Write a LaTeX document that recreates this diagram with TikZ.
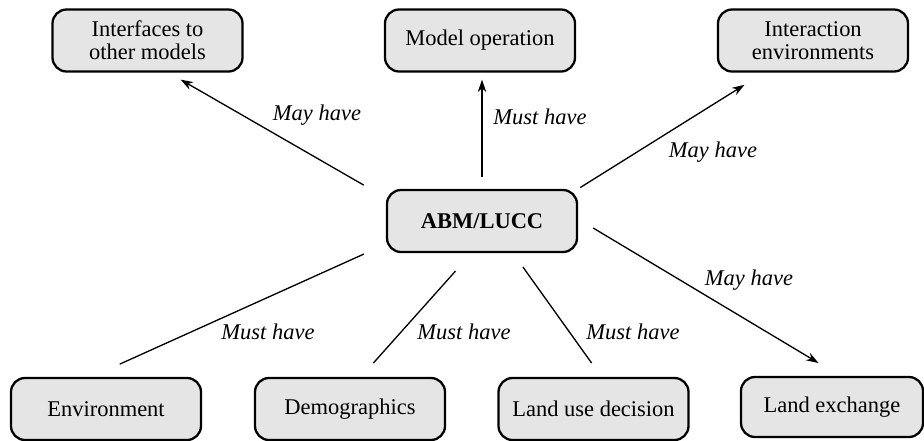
\documentclass[tikz,border=0pt]{standalone}
\usepackage{fontspec}
\setmainfont{Liberation Serif}
\newfontfamily\diagfont{Liberation Serif}
\usetikzlibrary{arrows.meta}

\tikzset{
  box/.style={draw, line width=1.3pt, rounded corners=0.28cm, fill=black!10,
    minimum width=3.8cm, minimum height=1.24cm, align=center, inner sep=2pt},
  link/.style={line width=0.75pt},
  arr/.style={link, -{Stealth[length=0.25cm, width=0.17cm]}},
  lbl/.style={font=\diagfont\fontsize{12.8}{13}\selectfont\itshape, inner sep=1pt}
}

\begin{document}
\begin{tikzpicture}[font=\diagfont\fontsize{12.8}{13}\selectfont]
            \useasboundingbox (0,0) rectangle (18.48,-8.8);

            \node[box, font=\diagfont\fontsize{12.8}{13}\selectfont\bfseries] (ABM) at (9.64,-4.42) {ABM/LUCC};

            \node[box] (iface) at (2.95,-0.81) {Interfaces to\\other models};
            \node[box] (modelop) at (9.60,-0.81) {Model operation};
            \node[box] (interact) at (16.26,-0.81) {Interaction\\environments};

            \node[box] (env) at (2.12,-8.18) {Environment};
            \node[box] (demog) at (7.00,-8.18) {Demographics};
            \node[box] (landuse) at (11.87,-8.18) {Land use decision};
            \node[box, minimum width=3.64cm, minimum height=1.2cm] (landex) at (16.64,-8.14) {Land exchange};

            \draw[arr, shorten <=0.51cm, shorten >=0.28cm] ([yshift=-0.18cm]ABM.north west) -- ([xshift=0.42cm]iface.south);
            \draw[arr, shorten <=0.24cm, shorten >=0.14cm] (ABM.north) -- (ABM.north |- modelop.south);
            \draw[arr, shorten <=0.05cm, shorten >=0.46cm] (ABM.north east) -- ([xshift=-0.98cm]interact.south);
            \draw[arr, shorten <=0.35cm, shorten >=0.5cm] ([yshift=0.04cm]ABM.east) -- ([xshift=0.16cm]landex.north);

            \draw[link, shorten <=0.62cm, shorten >=0.48cm] ([xshift=-0.29cm]env.north) -- ([yshift=0.18cm]ABM.south west);
            \draw[link, shorten <=0.37cm, shorten >=0.48cm] ([xshift=0.22cm]demog.north) -- ([xshift=-0.21cm]ABM.south);
            \draw[link, shorten <=0.34cm, shorten >=0.34cm] ([xshift=0.16cm]landuse.north) -- ([xshift=0.62cm]ABM.south);

            \node[lbl] (l1) at (6.34,-2.30) {May have};
            \node[lbl] (l2) at (10.80,-2.34) {Must have};
            \node[lbl] (l3) at (14.26,-3.04) {May have};
            \node[lbl] (l4) at (14.98,-5.60) {May have};
            \node[lbl] (l5) at (5.36,-6.64) {Must have};
            \node[lbl] (l6) at (9.28,-6.64) {Must have};
            \node[lbl] (l7) at (12.66,-6.64) {Must have};

        \end{tikzpicture}
\end{document}
